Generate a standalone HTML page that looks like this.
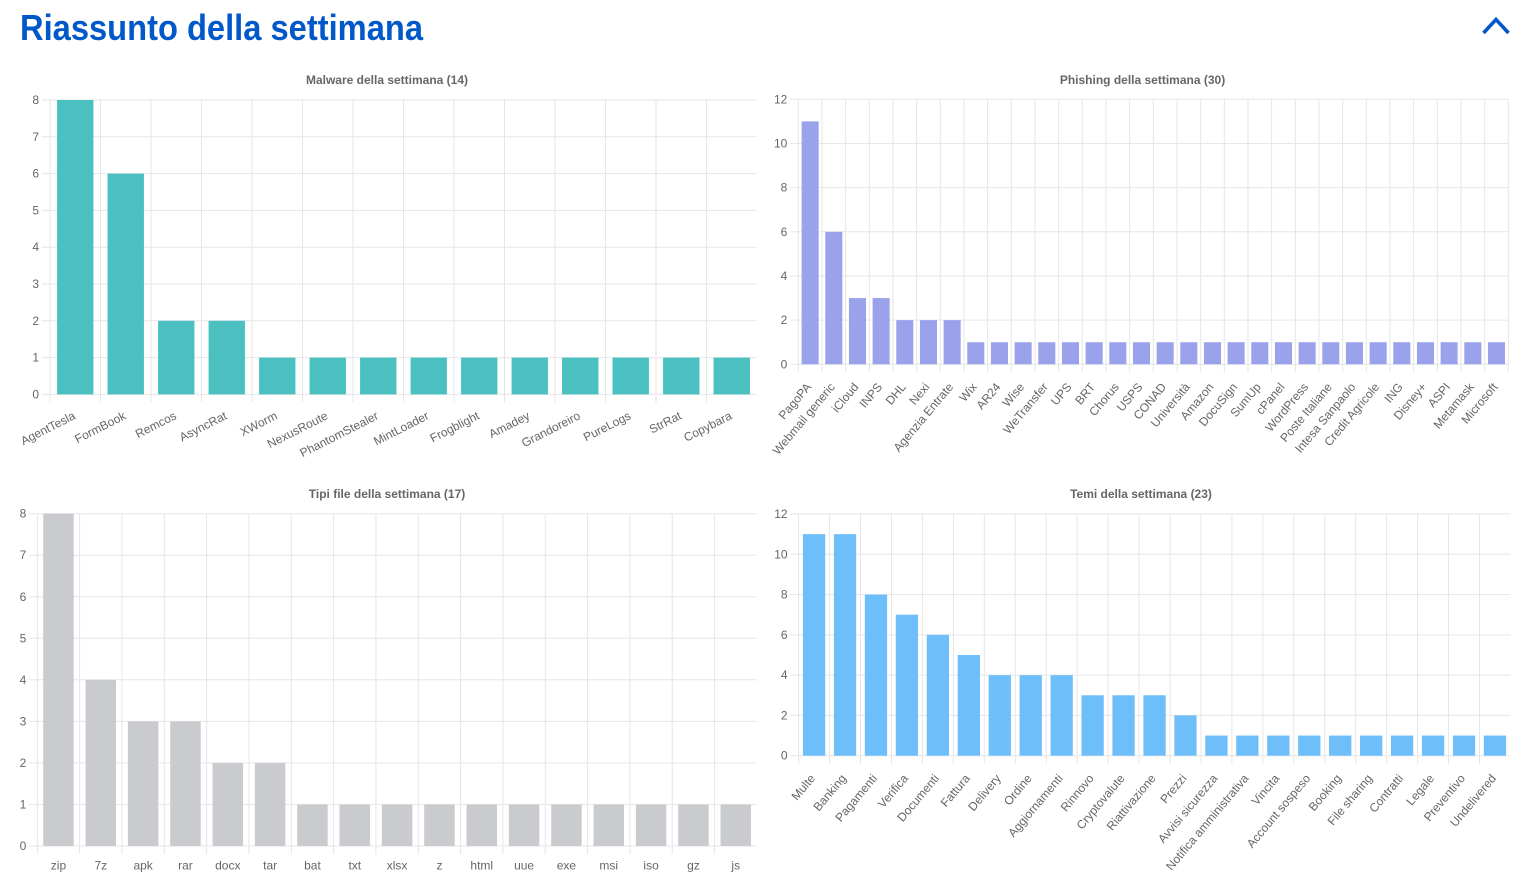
<!DOCTYPE html>
<html>
<head>
<meta charset="utf-8">
<style>
  html,body{margin:0;padding:0;background:#fff;}
  body{width:1528px;height:890px;overflow:hidden;}
  svg{display:block;}
  .t{font-family:"Liberation Sans",Arial,sans-serif;font-size:12px;fill:#666;}
  .yl{text-anchor:end;dominant-baseline:central;}
  .xl{text-anchor:end;dominant-baseline:central;}
  .xc{text-anchor:middle;dominant-baseline:central;}
  .ti{font-family:"Liberation Sans",Arial,sans-serif;font-size:12px;font-weight:bold;fill:#666;text-anchor:middle;dominant-baseline:central;}
  .g{stroke:#e6e6e6;stroke-width:1;fill:none;}
  .gv{stroke:#e6e6e6;stroke-width:1;fill:none;vector-effect:non-scaling-stroke;}
</style>
</head>
<body>
<svg width="1528" height="890" viewBox="0 0 1528 890" xmlns="http://www.w3.org/2000/svg">
  <!-- Header -->
  <text x="20" y="40" font-family="'Liberation Sans',Arial,sans-serif" font-size="36" font-weight="bold" fill="#0058c9" textLength="403" lengthAdjust="spacingAndGlyphs">Riassunto della settimana</text>
  <polyline points="1483.5,33 1496,19.5 1508.5,33" fill="none" stroke="#0058c9" stroke-width="3.6" stroke-linejoin="miter"/>

  <!-- ================= MALWARE ================= -->
  <text class="ti" x="387" y="80">Malware della settimana (14)</text>
  <path class="g" d="M42 394.4H757 M42 357.6H757 M42 320.8H757 M42 284H757 M42 247.2H757 M42 210.4H757 M42 173.6H757 M42 136.8H757 M42 100H757"/>
  <g transform="translate(50 0) scale(50.5 1)">
    <path class="gv" d="M0 100V402.4 M1 100V402.4 M2 100V402.4 M3 100V402.4 M4 100V402.4 M5 100V402.4 M6 100V402.4 M7 100V402.4 M8 100V402.4 M9 100V402.4 M10 100V402.4 M11 100V402.4 M12 100V402.4 M13 100V402.4"/>
  </g>
  <g transform="translate(50 394.4) scale(50.5 -36.8)" fill="#4bc0c0">
    <rect x="0.14" y="0" width="0.72" height="8"/>
    <rect x="1.14" y="0" width="0.72" height="6"/>
    <rect x="2.14" y="0" width="0.72" height="2"/>
    <rect x="3.14" y="0" width="0.72" height="2"/>
    <rect x="4.14" y="0" width="0.72" height="1"/>
    <rect x="5.14" y="0" width="0.72" height="1"/>
    <rect x="6.14" y="0" width="0.72" height="1"/>
    <rect x="7.14" y="0" width="0.72" height="1"/>
    <rect x="8.14" y="0" width="0.72" height="1"/>
    <rect x="9.14" y="0" width="0.72" height="1"/>
    <rect x="10.14" y="0" width="0.72" height="1"/>
    <rect x="11.14" y="0" width="0.72" height="1"/>
    <rect x="12.14" y="0" width="0.72" height="1"/>
    <rect x="13.14" y="0" width="0.72" height="1"/>
  </g>
  <g class="t yl">
    <text x="39" y="394.4">0</text>
    <text x="39" y="357.6">1</text>
    <text x="39" y="320.8">2</text>
    <text x="39" y="284">3</text>
    <text x="39" y="247.2">4</text>
    <text x="39" y="210.4">5</text>
    <text x="39" y="173.6">6</text>
    <text x="39" y="136.8">7</text>
    <text x="39" y="100">8</text>
  </g>
  <g class="t xl">
    <text transform="translate(75.25 405.4) rotate(-27)" x="-5" y="8">AgentTesla</text>
    <text transform="translate(125.75 405.4) rotate(-27)" x="-5" y="8">FormBook</text>
    <text transform="translate(176.25 405.4) rotate(-27)" x="-5" y="8">Remcos</text>
    <text transform="translate(226.75 405.4) rotate(-27)" x="-5" y="8">AsyncRat</text>
    <text transform="translate(277.25 405.4) rotate(-27)" x="-5" y="8">XWorm</text>
    <text transform="translate(327.75 405.4) rotate(-27)" x="-5" y="8">NexusRoute</text>
    <text transform="translate(378.25 405.4) rotate(-27)" x="-5" y="8">PhantomStealer</text>
    <text transform="translate(428.75 405.4) rotate(-27)" x="-5" y="8">MintLoader</text>
    <text transform="translate(479.25 405.4) rotate(-27)" x="-5" y="8">Frogblight</text>
    <text transform="translate(529.75 405.4) rotate(-27)" x="-5" y="8">Amadey</text>
    <text transform="translate(580.25 405.4) rotate(-27)" x="-5" y="8">Grandoreiro</text>
    <text transform="translate(630.75 405.4) rotate(-27)" x="-5" y="8">PureLogs</text>
    <text transform="translate(681.25 405.4) rotate(-27)" x="-5" y="8">StrRat</text>
    <text transform="translate(731.75 405.4) rotate(-27)" x="-5" y="8">Copybara</text>
  </g>

  <!-- ================= PHISHING ================= -->
  <text class="ti" x="1142.5" y="80">Phishing della settimana (30)</text>
  <path class="g" d="M790.3 364.3H1508.3 M790.3 320.1H1508.3 M790.3 276H1508.3 M790.3 231.8H1508.3 M790.3 187.6H1508.3 M790.3 143.5H1508.3 M790.3 99.3H1508.3"/>
  <g transform="translate(798.3 0) scale(23.667 1)">
    <path class="gv" d="M0 99.3V372.3 M1 99.3V372.3 M2 99.3V372.3 M3 99.3V372.3 M4 99.3V372.3 M5 99.3V372.3 M6 99.3V372.3 M7 99.3V372.3 M8 99.3V372.3 M9 99.3V372.3 M10 99.3V372.3 M11 99.3V372.3 M12 99.3V372.3 M13 99.3V372.3 M14 99.3V372.3 M15 99.3V372.3 M16 99.3V372.3 M17 99.3V372.3 M18 99.3V372.3 M19 99.3V372.3 M20 99.3V372.3 M21 99.3V372.3 M22 99.3V372.3 M23 99.3V372.3 M24 99.3V372.3 M25 99.3V372.3 M26 99.3V372.3 M27 99.3V372.3 M28 99.3V372.3 M29 99.3V372.3 M30 99.3V372.3"/>
  </g>
  <g transform="translate(798.3 364.3) scale(23.667 -22.083)" fill="#9aa2eb">
    <rect x="0.14" y="0" width="0.72" height="11"/>
    <rect x="1.14" y="0" width="0.72" height="6"/>
    <rect x="2.14" y="0" width="0.72" height="3"/>
    <rect x="3.14" y="0" width="0.72" height="3"/>
    <rect x="4.14" y="0" width="0.72" height="2"/>
    <rect x="5.14" y="0" width="0.72" height="2"/>
    <rect x="6.14" y="0" width="0.72" height="2"/>
    <rect x="7.14" y="0" width="0.72" height="1"/>
    <rect x="8.14" y="0" width="0.72" height="1"/>
    <rect x="9.14" y="0" width="0.72" height="1"/>
    <rect x="10.14" y="0" width="0.72" height="1"/>
    <rect x="11.14" y="0" width="0.72" height="1"/>
    <rect x="12.14" y="0" width="0.72" height="1"/>
    <rect x="13.14" y="0" width="0.72" height="1"/>
    <rect x="14.14" y="0" width="0.72" height="1"/>
    <rect x="15.14" y="0" width="0.72" height="1"/>
    <rect x="16.14" y="0" width="0.72" height="1"/>
    <rect x="17.14" y="0" width="0.72" height="1"/>
    <rect x="18.14" y="0" width="0.72" height="1"/>
    <rect x="19.14" y="0" width="0.72" height="1"/>
    <rect x="20.14" y="0" width="0.72" height="1"/>
    <rect x="21.14" y="0" width="0.72" height="1"/>
    <rect x="22.14" y="0" width="0.72" height="1"/>
    <rect x="23.14" y="0" width="0.72" height="1"/>
    <rect x="24.14" y="0" width="0.72" height="1"/>
    <rect x="25.14" y="0" width="0.72" height="1"/>
    <rect x="26.14" y="0" width="0.72" height="1"/>
    <rect x="27.14" y="0" width="0.72" height="1"/>
    <rect x="28.14" y="0" width="0.72" height="1"/>
    <rect x="29.14" y="0" width="0.72" height="1"/>
  </g>
  <g class="t yl">
    <text x="787.3" y="364.3">0</text>
    <text x="787.3" y="320.1">2</text>
    <text x="787.3" y="276">4</text>
    <text x="787.3" y="231.8">6</text>
    <text x="787.3" y="187.6">8</text>
    <text x="787.3" y="143.5">10</text>
    <text x="787.3" y="99.3">12</text>
  </g>
  <g class="t xl">
    <text transform="translate(810.13 375.3) rotate(-50)" x="-8" y="5">PagoPA</text>
    <text transform="translate(833.80 375.3) rotate(-50)" x="-8" y="5">Webmail generic</text>
    <text transform="translate(857.47 375.3) rotate(-50)" x="-8" y="5">iCloud</text>
    <text transform="translate(881.13 375.3) rotate(-50)" x="-8" y="5">INPS</text>
    <text transform="translate(904.80 375.3) rotate(-50)" x="-8" y="5">DHL</text>
    <text transform="translate(928.47 375.3) rotate(-50)" x="-8" y="5">Nexi</text>
    <text transform="translate(952.13 375.3) rotate(-50)" x="-8" y="5">Agenzia Entrate</text>
    <text transform="translate(975.80 375.3) rotate(-50)" x="-8" y="5">Wix</text>
    <text transform="translate(999.47 375.3) rotate(-50)" x="-8" y="5">AR24</text>
    <text transform="translate(1023.13 375.3) rotate(-50)" x="-8" y="5">Wise</text>
    <text transform="translate(1046.80 375.3) rotate(-50)" x="-8" y="5">WeTransfer</text>
    <text transform="translate(1070.47 375.3) rotate(-50)" x="-8" y="5">UPS</text>
    <text transform="translate(1094.13 375.3) rotate(-50)" x="-8" y="5">BRT</text>
    <text transform="translate(1117.80 375.3) rotate(-50)" x="-8" y="5">Chorus</text>
    <text transform="translate(1141.47 375.3) rotate(-50)" x="-8" y="5">USPS</text>
    <text transform="translate(1165.13 375.3) rotate(-50)" x="-8" y="5">CONAD</text>
    <text transform="translate(1188.80 375.3) rotate(-50)" x="-8" y="5">Università</text>
    <text transform="translate(1212.47 375.3) rotate(-50)" x="-8" y="5">Amazon</text>
    <text transform="translate(1236.13 375.3) rotate(-50)" x="-8" y="5">DocuSign</text>
    <text transform="translate(1259.80 375.3) rotate(-50)" x="-8" y="5">SumUp</text>
    <text transform="translate(1283.47 375.3) rotate(-50)" x="-8" y="5">cPanel</text>
    <text transform="translate(1307.13 375.3) rotate(-50)" x="-8" y="5">WordPress</text>
    <text transform="translate(1330.80 375.3) rotate(-50)" x="-8" y="5">Poste Italiane</text>
    <text transform="translate(1354.47 375.3) rotate(-50)" x="-8" y="5">Intesa Sanpaolo</text>
    <text transform="translate(1378.13 375.3) rotate(-50)" x="-8" y="5">Credit Agricole</text>
    <text transform="translate(1401.80 375.3) rotate(-50)" x="-8" y="5">ING</text>
    <text transform="translate(1425.47 375.3) rotate(-50)" x="-8" y="5">Disney+</text>
    <text transform="translate(1449.13 375.3) rotate(-50)" x="-8" y="5">ASPI</text>
    <text transform="translate(1472.80 375.3) rotate(-50)" x="-8" y="5">Metamask</text>
    <text transform="translate(1496.47 375.3) rotate(-50)" x="-8" y="5">Microsoft</text>
  </g>

  <!-- ================= TIPI FILE ================= -->
  <text class="ti" x="387" y="494">Tipi file della settimana (17)</text>
  <path class="g" d="M29.3 846H756.9 M29.3 804.5H756.9 M29.3 762.9H756.9 M29.3 721.4H756.9 M29.3 679.8H756.9 M29.3 638.3H756.9 M29.3 596.8H756.9 M29.3 555.2H756.9 M29.3 513.7H756.9"/>
  <g transform="translate(37.3 0) scale(42.33 1)">
    <path class="gv" d="M0 513.7V854 M1 513.7V854 M2 513.7V854 M3 513.7V854 M4 513.7V854 M5 513.7V854 M6 513.7V854 M7 513.7V854 M8 513.7V854 M9 513.7V854 M10 513.7V854 M11 513.7V854 M12 513.7V854 M13 513.7V854 M14 513.7V854 M15 513.7V854 M16 513.7V854"/>
  </g>
  <g transform="translate(37.3 846) scale(42.33 -41.54)" fill="#c9cbcf">
    <rect x="0.14" y="0" width="0.72" height="8"/>
    <rect x="1.14" y="0" width="0.72" height="4"/>
    <rect x="2.14" y="0" width="0.72" height="3"/>
    <rect x="3.14" y="0" width="0.72" height="3"/>
    <rect x="4.14" y="0" width="0.72" height="2"/>
    <rect x="5.14" y="0" width="0.72" height="2"/>
    <rect x="6.14" y="0" width="0.72" height="1"/>
    <rect x="7.14" y="0" width="0.72" height="1"/>
    <rect x="8.14" y="0" width="0.72" height="1"/>
    <rect x="9.14" y="0" width="0.72" height="1"/>
    <rect x="10.14" y="0" width="0.72" height="1"/>
    <rect x="11.14" y="0" width="0.72" height="1"/>
    <rect x="12.14" y="0" width="0.72" height="1"/>
    <rect x="13.14" y="0" width="0.72" height="1"/>
    <rect x="14.14" y="0" width="0.72" height="1"/>
    <rect x="15.14" y="0" width="0.72" height="1"/>
    <rect x="16.14" y="0" width="0.72" height="1"/>
  </g>
  <g class="t yl">
    <text x="26.3" y="846">0</text>
    <text x="26.3" y="804.5">1</text>
    <text x="26.3" y="762.9">2</text>
    <text x="26.3" y="721.4">3</text>
    <text x="26.3" y="679.8">4</text>
    <text x="26.3" y="638.3">5</text>
    <text x="26.3" y="596.8">6</text>
    <text x="26.3" y="555.2">7</text>
    <text x="26.3" y="513.7">8</text>
  </g>
  <g class="t xc">
    <text x="58.47" y="865.3">zip</text>
    <text x="100.8" y="865.3">7z</text>
    <text x="143.13" y="865.3">apk</text>
    <text x="185.46" y="865.3">rar</text>
    <text x="227.79" y="865.3">docx</text>
    <text x="270.12" y="865.3">tar</text>
    <text x="312.45" y="865.3">bat</text>
    <text x="354.78" y="865.3">txt</text>
    <text x="397.11" y="865.3">xlsx</text>
    <text x="439.44" y="865.3">z</text>
    <text x="481.77" y="865.3">html</text>
    <text x="524.1" y="865.3">uue</text>
    <text x="566.43" y="865.3">exe</text>
    <text x="608.76" y="865.3">msi</text>
    <text x="651.09" y="865.3">iso</text>
    <text x="693.42" y="865.3">gz</text>
    <text x="735.75" y="865.3">js</text>
  </g>

  <!-- ================= TEMI ================= -->
  <text class="ti" x="1141" y="494">Temi della settimana (23)</text>
  <path class="g" d="M790.6 755.7H1510.5 M790.6 715.4H1510.5 M790.6 675.1H1510.5 M790.6 634.9H1510.5 M790.6 594.6H1510.5 M790.6 554.3H1510.5 M790.6 514H1510.5"/>
  <g transform="translate(798.6 0) scale(30.95 1)">
    <path class="gv" d="M0 514V763.7 M1 514V763.7 M2 514V763.7 M3 514V763.7 M4 514V763.7 M5 514V763.7 M6 514V763.7 M7 514V763.7 M8 514V763.7 M9 514V763.7 M10 514V763.7 M11 514V763.7 M12 514V763.7 M13 514V763.7 M14 514V763.7 M15 514V763.7 M16 514V763.7 M17 514V763.7 M18 514V763.7 M19 514V763.7 M20 514V763.7 M21 514V763.7 M22 514V763.7"/>
  </g>
  <g transform="translate(798.6 755.7) scale(30.95 -20.142)" fill="#6ebef9">
    <rect x="0.14" y="0" width="0.72" height="11"/>
    <rect x="1.14" y="0" width="0.72" height="11"/>
    <rect x="2.14" y="0" width="0.72" height="8"/>
    <rect x="3.14" y="0" width="0.72" height="7"/>
    <rect x="4.14" y="0" width="0.72" height="6"/>
    <rect x="5.14" y="0" width="0.72" height="5"/>
    <rect x="6.14" y="0" width="0.72" height="4"/>
    <rect x="7.14" y="0" width="0.72" height="4"/>
    <rect x="8.14" y="0" width="0.72" height="4"/>
    <rect x="9.14" y="0" width="0.72" height="3"/>
    <rect x="10.14" y="0" width="0.72" height="3"/>
    <rect x="11.14" y="0" width="0.72" height="3"/>
    <rect x="12.14" y="0" width="0.72" height="2"/>
    <rect x="13.14" y="0" width="0.72" height="1"/>
    <rect x="14.14" y="0" width="0.72" height="1"/>
    <rect x="15.14" y="0" width="0.72" height="1"/>
    <rect x="16.14" y="0" width="0.72" height="1"/>
    <rect x="17.14" y="0" width="0.72" height="1"/>
    <rect x="18.14" y="0" width="0.72" height="1"/>
    <rect x="19.14" y="0" width="0.72" height="1"/>
    <rect x="20.14" y="0" width="0.72" height="1"/>
    <rect x="21.14" y="0" width="0.72" height="1"/>
    <rect x="22.14" y="0" width="0.72" height="1"/>
  </g>
  <g class="t yl">
    <text x="787.6" y="755.7">0</text>
    <text x="787.6" y="715.4">2</text>
    <text x="787.6" y="675.1">4</text>
    <text x="787.6" y="634.9">6</text>
    <text x="787.6" y="594.6">8</text>
    <text x="787.6" y="554.3">10</text>
    <text x="787.6" y="514">12</text>
  </g>
  <g class="t xl">
    <text transform="translate(814.08 766.7) rotate(-50)" x="-8" y="5">Multe</text>
    <text transform="translate(845.03 766.7) rotate(-50)" x="-8" y="5">Banking</text>
    <text transform="translate(875.98 766.7) rotate(-50)" x="-8" y="5">Pagamenti</text>
    <text transform="translate(906.93 766.7) rotate(-50)" x="-8" y="5">Verifica</text>
    <text transform="translate(937.88 766.7) rotate(-50)" x="-8" y="5">Documenti</text>
    <text transform="translate(968.83 766.7) rotate(-50)" x="-8" y="5">Fattura</text>
    <text transform="translate(999.78 766.7) rotate(-50)" x="-8" y="5">Delivery</text>
    <text transform="translate(1030.73 766.7) rotate(-50)" x="-8" y="5">Ordine</text>
    <text transform="translate(1061.68 766.7) rotate(-50)" x="-8" y="5">Aggiornamenti</text>
    <text transform="translate(1092.63 766.7) rotate(-50)" x="-8" y="5">Rinnovo</text>
    <text transform="translate(1123.58 766.7) rotate(-50)" x="-8" y="5">Cryptovalute</text>
    <text transform="translate(1154.53 766.7) rotate(-50)" x="-8" y="5">Riattivazione</text>
    <text transform="translate(1185.48 766.7) rotate(-50)" x="-8" y="5">Prezzi</text>
    <text transform="translate(1216.43 766.7) rotate(-50)" x="-8" y="5">Avvisi sicurezza</text>
    <text transform="translate(1247.38 766.7) rotate(-50)" x="-8" y="5">Notifica amministrativa</text>
    <text transform="translate(1278.33 766.7) rotate(-50)" x="-8" y="5">Vincita</text>
    <text transform="translate(1309.28 766.7) rotate(-50)" x="-8" y="5">Account sospeso</text>
    <text transform="translate(1340.23 766.7) rotate(-50)" x="-8" y="5">Booking</text>
    <text transform="translate(1371.18 766.7) rotate(-50)" x="-8" y="5">File sharing</text>
    <text transform="translate(1402.13 766.7) rotate(-50)" x="-8" y="5">Contratti</text>
    <text transform="translate(1433.08 766.7) rotate(-50)" x="-8" y="5">Legale</text>
    <text transform="translate(1464.03 766.7) rotate(-50)" x="-8" y="5">Preventivo</text>
    <text transform="translate(1494.98 766.7) rotate(-50)" x="-8" y="5">Undelivered</text>
  </g>
</svg>
</body>
</html>
